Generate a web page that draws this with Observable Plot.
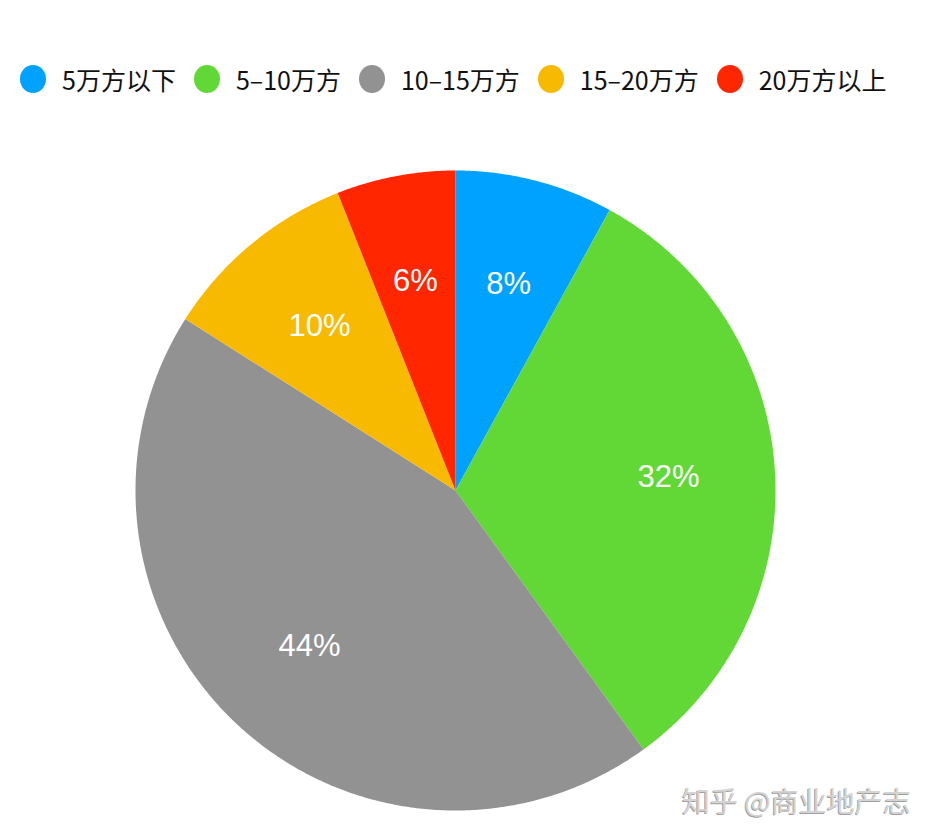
<!DOCTYPE html>
<html>
<head>
<meta charset="utf-8">
<script src="https://cdn.jsdelivr.net/npm/d3@7"></script>
<script src="https://cdn.jsdelivr.net/npm/@observablehq/plot@0.6"></script>
<style>
  html, body { margin: 0; padding: 0; background: #fff; }
  body { position: relative; width: 934px; height: 840px; overflow: hidden; font-family: "Noto Sans CJK SC", "Noto Sans", sans-serif; }
  #legend { position: absolute; left: 20px; top: 62px; display: flex; align-items: center; height: 34px; }
  .item { display: flex; align-items: center; margin-right: 18px; }
  .sw { width: 26px; height: 28px; border-radius: 50%; margin-right: 16px; }
  .lab { font-size: 25px; color: #111; white-space: nowrap; }
  #wm { position: absolute; left: 682px; top: 780px; font-size: 28px; color: #d4d4d4; text-shadow: -1px 1px 0 #a0a0a0; white-space: nowrap; }
  #chart { position: absolute; left: 0; top: 0; }
</style>
</head>
<body>
<div id="chart"></div>
<div id="legend"></div>
<div id="wm">知乎 @商业地产志</div>
<script>
const categories = ["5万方以下", "5–10万方", "10–15万方", "15–20万方", "20万方以上"];
const values = [8, 32, 44, 10, 6];
const colors = ["#00A2FF", "#61D836", "#929292", "#F8BA00", "#FF2600"];

const total = d3.sum(values);
const slices = [];
const labels = [];
let acc = 0;
categories.forEach((c, i) => {
  const a0 = acc / total * 2 * Math.PI;
  acc += values[i];
  const a1 = acc / total * 2 * Math.PI;
  slices.push({cat: c, x: 0, y: 0});
  const n = Math.max(2, Math.ceil((a1 - a0) / (Math.PI / 360)));
  for (let k = 0; k <= n; k++) {
    const a = a0 + (a1 - a0) * k / n;
    slices.push({cat: c, x: Math.sin(a), y: Math.cos(a)});
  }
  const am = (a0 + a1) / 2;
  labels.push({cat: c, x: Math.sin(am) * 2 / 3, y: Math.cos(am) * 2 / 3, text: values[i] + "%"});
});

const chart = Plot.plot({
  width: 934,
  height: 840,
  margin: 0,
  x: {domain: [-1, 1], range: [135, 775], axis: null},
  y: {domain: [-1, 1], range: [810, 170], axis: null},
  color: {domain: categories, range: colors},
  style: {background: "transparent"},
  marks: [
    Plot.line(slices, {x: "x", y: "y", z: "cat", fill: "cat", stroke: null, curve: "linear-closed"}),
    Plot.text(labels, {x: "x", y: "y", text: "text", fill: "white", fontSize: 31, fontFamily: "Liberation Sans, Arial, sans-serif"})
  ]
});
document.getElementById("chart").appendChild(chart);

const legend = document.getElementById("legend");
categories.forEach((c, i) => {
  const it = document.createElement("div");
  it.className = "item";
  const sw = document.createElement("div");
  sw.className = "sw";
  sw.style.background = colors[i];
  const lb = document.createElement("span");
  lb.className = "lab";
  lb.textContent = c;
  it.appendChild(sw);
  it.appendChild(lb);
  legend.appendChild(it);
});
</script>
</body>
</html>
